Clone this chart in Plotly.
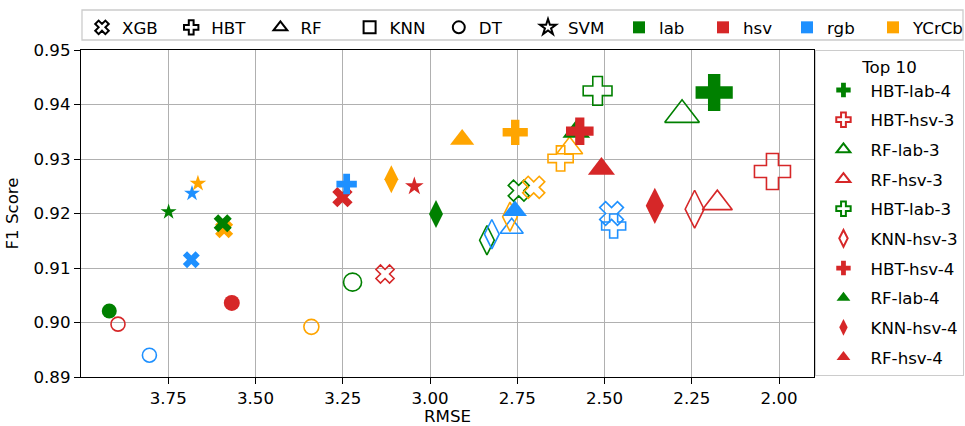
import plotly.graph_objects as go

# ---- results: one entry per model / colour space / channel count ----
model = ["XGB", "XGB", "XGB", "XGB", "XGB", "XGB", "XGB", "XGB",
         "HBT", "HBT", "HBT", "HBT", "HBT", "HBT", "HBT", "HBT",
         "RF", "RF", "RF", "RF", "RF", "RF", "RF", "RF",
         "KNN", "KNN", "KNN", "KNN", "KNN", "KNN", "KNN",
         "DT", "DT", "DT", "DT", "DT", "DT",
         "SVM", "SVM", "SVM", "SVM"]
space = ["lab", "YCrCb", "rgb", "hsv", "hsv", "lab", "YCrCb", "rgb",
         "rgb", "YCrCb", "hsv", "lab", "lab", "hsv", "YCrCb", "rgb",
         "YCrCb", "rgb", "rgb", "lab", "YCrCb", "hsv", "lab", "hsv",
         "YCrCb", "lab", "YCrCb", "rgb", "lab", "hsv", "hsv",
         "lab", "hsv", "rgb", "hsv", "YCrCb", "lab",
         "lab", "rgb", "YCrCb", "hsv"]
channels = [4, 4, 4, 4, 3, 3, 3, 3,
            4, 4, 4, 3, 4, 3, 3, 3,
            4, 4, 3, 4, 3, 4, 3, 3,
            4, 4, 3, 3, 3, 4, 3,
            4, 3, 3, 4, 3, 3,
            4, 4, 4, 4]
rmse = [3.594, 3.590, 3.684, 3.251, 3.129, 2.746, 2.703, 2.480,
        3.239, 2.756, 2.571, 2.520, 2.186, 2.019, 2.626, 2.474,
        2.908, 2.757, 2.766, 2.581, 2.600, 2.509, 2.278, 2.177,
        3.111, 2.983, 2.771, 2.823, 2.837, 2.356, 2.242,
        3.919, 3.894, 3.804, 3.568, 3.340, 3.222,
        3.749, 3.682, 3.665, 3.045]
f1 = [0.9182, 0.9171, 0.9115, 0.9230, 0.9089, 0.9242, 0.9248, 0.9200,
      0.9254, 0.9349, 0.9351, 0.9425, 0.9422, 0.9277, 0.9301, 0.9177,
      0.9336, 0.9205, 0.9173, 0.9350, 0.9320, 0.9282, 0.9381, 0.9219,
      0.9263, 0.9199, 0.9194, 0.9162, 0.9151, 0.9214, 0.9208,
      0.9021, 0.8997, 0.8940, 0.9036, 0.8992, 0.9074,
      0.9203, 0.9237, 0.9255, 0.9250]

top10 = ["HBT-lab-4", "HBT-hsv-3", "RF-lab-3", "RF-hsv-3", "HBT-lab-3",
         "KNN-hsv-3", "HBT-hsv-4", "RF-lab-4", "KNN-hsv-4", "RF-hsv-4"]

model_names = ["XGB", "HBT", "RF", "KNN", "DT", "SVM"]
space_names = ["lab", "hsv", "rgb", "YCrCb"]

x_ticks = [3.75, 3.50, 3.25, 3.00, 2.75, 2.50, 2.25, 2.00]
y_ticks = [0.89, 0.90, 0.91, 0.92, 0.93, 0.94, 0.95]

# ---- styling ----
SYMBOL = {"XGB": "x", "HBT": "cross", "RF": "triangle-up",
          "KNN": "diamond-tall", "DT": "circle", "SVM": "star"}
LEGEND_SYMBOL = {"XGB": "x-open", "HBT": "cross-open", "RF": "triangle-up-open",
                 "KNN": "square-open", "DT": "circle-open", "SVM": "star-open"}
COLOR = {"lab": "#008000", "hsv": "#d62728", "rgb": "#1e90ff", "YCrCb": "#ffa500"}
SIZE = {
    "HBT-lab-4": 31, "HBT-hsv-3": 30, "RF-lab-3": 30, "RF-hsv-3": 26,
    "HBT-lab-3": 24, "KNN-hsv-3": 27, "HBT-hsv-4": 23, "RF-lab-4": 24,
    "KNN-hsv-4": 26, "RF-hsv-4": 23.5,
    "HBT-YCrCb-4": 21, "RF-YCrCb-3": 22.5, "HBT-YCrCb-3": 21, "XGB-rgb-3": 21,
    "HBT-rgb-3": 20, "RF-YCrCb-4": 21, "XGB-lab-3": 18.5, "XGB-YCrCb-3": 19.5,
    "RF-rgb-4": 21, "RF-rgb-3": 20, "KNN-YCrCb-3": 21, "KNN-rgb-3": 21,
    "KNN-lab-3": 21, "KNN-lab-4": 20, "KNN-YCrCb-4": 20, "SVM-hsv-4": 14,
    "HBT-rgb-4": 17, "XGB-hsv-4": 18, "XGB-hsv-3": 16, "DT-lab-3": 18,
    "DT-lab-4": 15, "DT-hsv-3": 14, "DT-rgb-3": 14, "DT-hsv-4": 16,
    "DT-YCrCb-3": 15, "SVM-lab-4": 12, "SVM-rgb-4": 12, "SVM-YCrCb-4": 12.5,
    "XGB-lab-4": 16, "XGB-YCrCb-4": 16, "XGB-rgb-4": 15,
}
FONT = dict(family="DejaVu Sans", size=16.67, color="black")
EDGE = 1.6
GRID = "#b0b0b0"
FRAME = "#cccccc"

W, H = 965, 426
L, R, T, B = 81, 151, 50, 49
PW, PH = W - L - R, H - T - B


def px_to_paper_x(px):
    return (px - L) / PW


def px_to_paper_y(py):
    return 1 + (T - py) / PH


def key(i):
    return f"{model[i]}-{space[i]}-{channels[i]}"


def marker_for(idx):
    syms, cols, sizes, lws = [], [], [], []
    for i in idx:
        sym = SYMBOL[model[i]]
        is_open = channels[i] == 3
        syms.append(sym + "-open" if is_open else sym)
        cols.append(COLOR[space[i]])
        sizes.append(SIZE[key(i)])
        lws.append(EDGE if is_open else 0)
    return dict(symbol=syms, color=cols, size=sizes, opacity=1,
                line=dict(color=cols, width=lws))


fig = go.Figure()

# all results outside the top ten, lowest F1 drawn first
labels = [key(i) for i in range(len(model))]
rest = sorted([i for i in range(len(model)) if labels[i] not in top10],
              key=lambda i: f1[i])
fig.add_trace(go.Scatter(
    x=[rmse[i] for i in rest], y=[f1[i] for i in rest],
    mode="markers", marker=marker_for(rest), showlegend=False,
    hoverinfo="text", text=[labels[i] for i in rest]))

# the top ten, best one drawn last so it sits on top
for name in reversed(top10):
    i = labels.index(name)
    fig.add_trace(go.Scatter(
        x=[rmse[i]], y=[f1[i]], mode="markers", name=name,
        marker=marker_for([i]), legend="legend2", legendgroup=name,
        legendrank=top10.index(name) + 1))

# key row: model shapes (legend), colour spaces (legend3 / legend4)
for m in model_names:
    fig.add_trace(go.Scatter(
        x=[None], y=[None], mode="markers", name=m, legend="legend",
        marker=dict(symbol=LEGEND_SYMBOL[m], color="black", size=12,
                    line=dict(color="black", width=1.5))))
for s in space_names:
    fig.add_trace(go.Scatter(
        x=[None], y=[None], mode="markers", name=s,
        legend="legend4" if s == space_names[-1] else "legend3",
        marker=dict(symbol="square", color=COLOR[s], size=14,
                    line=dict(width=0))))

axis_common = dict(showline=True, mirror=True, linecolor="black", linewidth=1.33,
                   ticks="outside", ticklen=6, tickwidth=1.33, tickcolor="black",
                   showgrid=True, gridcolor=GRID, gridwidth=1.33,
                   zeroline=False, tickfont=FONT, tickformat=".2f")

key_row = dict(orientation="h", yanchor="top", y=px_to_paper_y(10),
               xanchor="left", bgcolor="rgba(0,0,0,0)", borderwidth=0,
               font=FONT, itemsizing="constant", entrywidthmode="pixels")

fig.update_layout(
    width=W, height=H,
    margin=dict(l=L, r=R, t=T, b=B, autoexpand=False),
    paper_bgcolor="white", plot_bgcolor="white",
    font=FONT,
    xaxis=dict(range=[4.0, 1.9], tickvals=x_ticks,
               title=dict(text="RMSE", font=FONT, standoff=6), **axis_common),
    yaxis=dict(range=[0.89, 0.95], tickvals=y_ticks,
               title=dict(text="F1 Score", font=FONT, standoff=10), **axis_common),
    legend=dict(x=px_to_paper_x(82), entrywidth=44.2, **key_row),
    legend3=dict(x=px_to_paper_x(619), entrywidth=39, **key_row),
    legend4=dict(x=px_to_paper_x(873), entrywidth=0, **key_row),
    legend2=dict(x=1.002, xanchor="left", y=1.0, yanchor="top",
                 bgcolor="white", bordercolor=FRAME, borderwidth=1,
                 font=FONT, itemsizing="constant", itemwidth=44,
                 title=dict(text="Top 10", side="top center", font=FONT),
                 traceorder="grouped", tracegroupgap=5),
    # frame around the key row
    shapes=[dict(type="rect", xref="paper", yref="paper",
                 x0=px_to_paper_x(82), x1=px_to_paper_x(963),
                 y0=px_to_paper_y(40), y1=px_to_paper_y(10),
                 line=dict(color=FRAME, width=1.3), fillcolor="white",
                 layer="above")],
)

fig.write_html("out.html")
